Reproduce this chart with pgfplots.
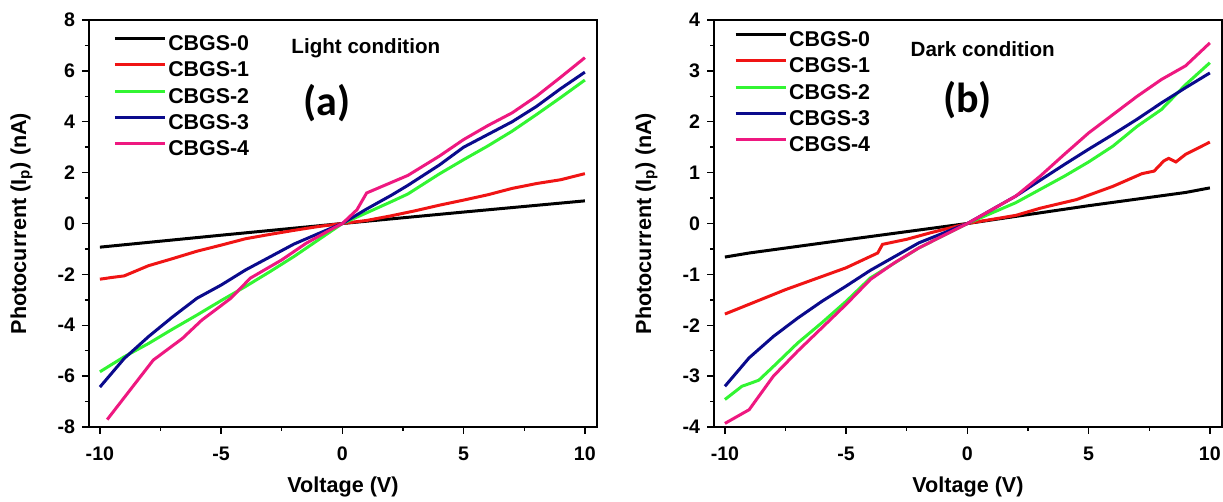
\documentclass[border=0pt]{standalone}
\usepackage{fontspec}
\setmainfont{Liberation Sans}
\newfontfamily\carlitofont{Carlito}
\usepackage{pgfplots}
\pgfplotsset{compat=1.18}
\definecolor{cRed}{RGB}{240,20,20}
\definecolor{cGreen}{RGB}{50,245,50}
\definecolor{cBlue}{RGB}{10,10,140}
\definecolor{cPink}{RGB}{238,24,128}
\pgfplotsset{
  myax/.style={
    scale only axis, width=254pt, height=203.5pt,
    xmin=-10.45, xmax=10.5,
    xtick={-10,-5,0,5,10}, minor x tick num=1, minor y tick num=1,
    tick align=outside, xtick pos=left, ytick pos=left,
    major tick length=3.5pt, minor tick length=2pt,
    axis line style={line width=0.9pt}, every tick/.style={black,line width=0.7pt},
    /pgf/number format/assume math mode=true,
    ticklabel style={font=\fontsize{9.8}{11}\selectfont\bfseries},
    xticklabel style={yshift=-3pt},
    xlabel={Voltage (V)}, ylabel={Photocurrent (I\textsubscript{p}) (nA)},
    every axis x label/.style={at={(axis description cs:0.5,-0.147)}, anchor=center, font=\fontsize{10.8}{12}\selectfont\bfseries},
    every axis y label/.style={at={(axis description cs:-0.133,0.5)}, anchor=center, rotate=90, font=\fontsize{10.8}{12}\selectfont\bfseries},
    legend cell align=left,
    legend image code/.code={\draw[#1] (0pt,0.3em) -- (25pt,0.3em);},
    legend style={draw=none, fill=none, anchor=north west, inner sep=0pt,
      font=\fontsize{10.7}{12}\selectfont\bfseries, row sep=3.15pt, column sep=1pt,
      nodes={inner sep=0pt, text height=8pt, text depth=2pt}},
    every axis plot/.append style={line width=1.5pt, no markers},
  }
}
\begin{document}
\begin{tikzpicture}
\useasboundingbox (0,0) rectangle (611.5pt,251pt);
\begin{axis}[myax, at={(44.5pt,37.5pt)}, anchor=south west,
  ymin=-8, ymax=8, ytick={-8,-6,-4,-2,0,2,4,6,8},
  legend style={at={(axis description cs:0.047,0.965)}}]
\addplot[black] coordinates {(-10,-0.93) (-5,-0.46) (0,0) (5,0.45) (10,0.89)};
\addplot[cRed] coordinates {(-10,-2.19) (-9.5,-2.12) (-9,-2.06) (-8,-1.66) (-7,-1.38) (-6,-1.09) (-5,-0.85) (-4,-0.6) (-3,-0.43) (-2,-0.27) (-1,-0.12) (0,0) (1,0.12) (2,0.3) (3,0.5) (4,0.72) (5,0.92) (6,1.13) (7,1.38) (8,1.57) (9,1.72) (10,1.96)};
\addplot[cGreen] coordinates {(-10,-5.83) (-9,-5.24) (-8,-4.72) (-7,-4.15) (-6,-3.6) (-5,-3.03) (-4,-2.48) (-3,-1.9) (-2,-1.3) (-1,-0.65) (0,0) (1,0.42) (2,0.85) (2.7,1.16) (4,1.95) (5,2.51) (6,3.05) (7,3.63) (8,4.28) (9,4.95) (10,5.64)};
\addplot[cBlue] coordinates {(-10,-6.43) (-9,-5.31) (-8,-4.45) (-7,-3.67) (-6,-2.94) (-5,-2.42) (-4,-1.83) (-3,-1.32) (-2,-0.81) (-1,-0.4) (0,0) (1,0.57) (2,1.1) (2.7,1.5) (4,2.3) (5,3.0) (6,3.5) (7,4.0) (8,4.6) (9,5.3) (10,5.95)};
\addplot[cPink] coordinates {(-9.7,-7.71) (-7.8,-5.37) (-6.6,-4.52) (-5.8,-3.80) (-4.6,-2.94) (-3.8,-2.15) (-2.5,-1.43) (-1.5,-0.78) (-0.5,-0.25) (0,0) (0.6,0.54) (1.0,1.2) (2.7,1.89) (4,2.65) (5,3.3) (6,3.85) (7,4.35) (8,5.0) (9,5.75) (10,6.52)};
\legend{CBGS-0,CBGS-1,CBGS-2,CBGS-3,CBGS-4}
\node[font=\fontsize{10.3}{12}\selectfont\bfseries] at (axis description cs:0.545,0.931) {Light condition};
\node[font=\fontsize{21}{24}\selectfont\carlitofont\bfseries] at (axis description cs:0.469,0.796) {(a)};
\end{axis}
\begin{axis}[myax, at={(357pt,37.5pt)}, anchor=south west,
  ymin=-4, ymax=4, ytick={-4,-3,-2,-1,0,1,2,3,4},
  legend style={at={(axis description cs:0.039,0.975)}}]
\addplot[black] coordinates {(-10,-0.66) (-9,-0.58) (-5,-0.32) (0,0) (5,0.35) (9,0.61) (10,0.70)};
\addplot[cRed] coordinates {(-10,-1.78) (-7.5,-1.30) (-5,-0.87) (-3.7,-0.58) (-3.5,-0.41) (-2.5,-0.31) (-1.5,-0.18) (0,0) (2,0.16) (3,0.30) (4.5,0.47) (6,0.73) (7.2,0.98) (7.7,1.03) (8.1,1.23) (8.3,1.28) (8.6,1.21) (9,1.36) (10,1.60)};
\addplot[cGreen] coordinates {(-10,-3.46) (-9.3,-3.2) (-9,-3.15) (-8.6,-3.08) (-8,-2.81) (-7,-2.35) (-6,-1.95) (-5,-1.53) (-4,-1.07) (-2,-0.48) (0,0) (2,0.41) (4,0.93) (5,1.21) (6,1.52) (7,1.91) (8,2.24) (9,2.73) (10,3.16)};
\addplot[cBlue] coordinates {(-10,-3.2) (-9,-2.64) (-8,-2.22) (-7,-1.86) (-6,-1.53) (-5,-1.23) (-4,-0.92) (-2,-0.38) (0,0) (2,0.54) (4,1.16) (5,1.46) (6,1.75) (7,2.05) (8,2.37) (9,2.67) (10,2.96)};
\addplot[cPink] coordinates {(-10,-3.93) (-9,-3.66) (-8,-3.0) (-7,-2.51) (-6,-2.05) (-5,-1.59) (-4,-1.10) (-3,-0.77) (-2,-0.48) (0,0) (2,0.54) (3,0.93) (4,1.36) (5,1.78) (6,2.14) (7,2.50) (8,2.83) (9,3.10) (10,3.55)};
\legend{CBGS-0,CBGS-1,CBGS-2,CBGS-3,CBGS-4}
\node[font=\fontsize{10.3}{12}\selectfont\bfseries] at (axis description cs:0.529,0.929) {Dark condition};
\node[font=\fontsize{21}{24}\selectfont\carlitofont\bfseries] at (axis description cs:0.499,0.803) {(b)};
\end{axis}
\end{tikzpicture}
\end{document}
